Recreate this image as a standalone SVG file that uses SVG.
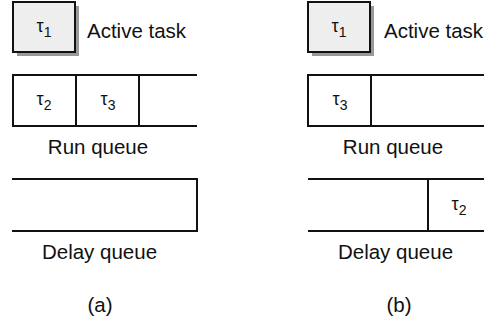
<svg xmlns="http://www.w3.org/2000/svg" width="484" height="325" viewBox="0 0 484 325">
<style>
.lbl{font-family:"Liberation Sans",Arial,sans-serif;font-size:20.5px;fill:#111;text-anchor:middle}
.lbl-s{font-family:"Liberation Sans",Arial,sans-serif;font-size:20.5px;fill:#111}
.tau{font-family:"Liberation Sans",Arial,sans-serif;font-size:18px;fill:#111;text-anchor:middle}
.sub{font-size:14px}
.ln{fill:none;stroke:#111;stroke-width:2}
.box{fill:#eeeeee;stroke:#111;stroke-width:2}
.shadow{fill:#999}
</style>
<g id="panel-a">
  <g id="a-active">
    <rect class="shadow" x="17" y="6" width="62" height="50"/>
    <rect class="box" x="13" y="2" width="62" height="50"/>
    <text class="tau" x="44" y="32">τ<tspan class="sub" dy="5">1</tspan></text>
  </g>
  <text class="lbl-s" x="87" y="38">Active task</text>
  <g id="a-run">
    <path class="ln" d="M197,75 H13 V126 H197 M76,75 V126 M139,75 V126"/>
    <text class="tau" x="44" y="105">τ<tspan class="sub" dy="5">2</tspan></text>
    <text class="tau" x="108" y="105">τ<tspan class="sub" dy="5">3</tspan></text>
  </g>
  <text class="lbl" x="98" y="154">Run queue</text>
  <g id="a-delay">
    <path class="ln" d="M12,179 H197 V231 H12"/>
  </g>
  <text class="lbl" x="99.5" y="259">Delay queue</text>
  <text class="lbl" x="100" y="312">(a)</text>
</g>
<g id="panel-b">
  <g id="b-active">
    <rect class="shadow" x="312" y="6" width="62" height="50"/>
    <rect class="box" x="308" y="2" width="62" height="50"/>
    <text class="tau" x="339" y="32">τ<tspan class="sub" dy="5">1</tspan></text>
  </g>
  <text class="lbl-s" x="384" y="38">Active task</text>
  <g id="b-run">
    <path class="ln" d="M485,75 H308 V126 H485 M371,75 V126"/>
    <text class="tau" x="340" y="105">τ<tspan class="sub" dy="5">3</tspan></text>
  </g>
  <text class="lbl" x="393" y="154">Run queue</text>
  <g id="b-delay">
    <path class="ln" d="M308,179 H485 M308,231 H485 M428,179 V231"/>
    <text class="tau" x="459" y="210">τ<tspan class="sub" dy="5">2</tspan></text>
  </g>
  <text class="lbl" x="395.5" y="259">Delay queue</text>
  <text class="lbl" x="399" y="312">(b)</text>
</g>
<g id="connectors"></g>
</svg>
